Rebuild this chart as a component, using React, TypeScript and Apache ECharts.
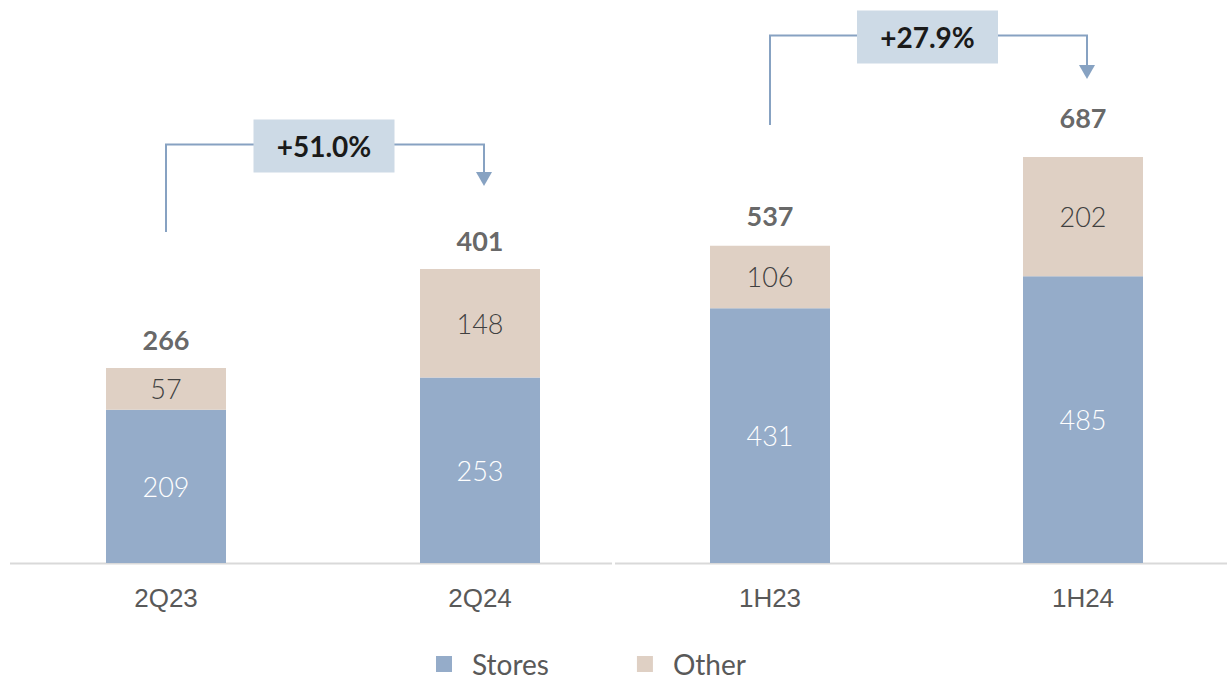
import React, { useEffect, useRef } from "react";
import * as echarts from "echarts";

const leftCategories = ["2Q23", "2Q24"];
const rightCategories = ["1H23", "1H24"];
const leftStores = [209, 253];
const leftOther = [57, 148];
const rightStores = [431, 485];
const rightOther = [106, 202];
const leftGrowth = "+51.0%";
const rightGrowth = "+27.9%";

const STORES = "#95acc9";
const OTHER = "#dfd0c4";
const LINE = "#87a2c2";
const BOX = "#cddae6";
const FONT = "Lato, 'Open Sans', sans-serif";

const sum = (a: number[], b: number[]) => a.map((v, i) => v + b[i]);

export default function App() {
  const ref = useRef<HTMLDivElement>(null);
  useEffect(() => {
    document.body.style.margin = "0";
    const chart = echarts.init(ref.current!, null, { renderer: "svg" });
    const leftTotal = sum(leftStores, leftOther);
    const rightTotal = sum(rightStores, rightOther);

    const barCommon = (name: string, color: string, gi: number, data: number[], labelColor: string) => ({
      name,
      type: "bar",
      stack: "s" + gi,
      xAxisIndex: gi,
      yAxisIndex: gi,
      barWidth: 120,
      data,
      itemStyle: { color },
      label: {
        show: true,
        position: "inside",
        color: labelColor,
        fontSize: 27,
        fontWeight: 300,
        fontFamily: FONT,
      },
    });
    const totalSeries = (gi: number, data: number[], distances: number[]) => ({
      type: "scatter",
      xAxisIndex: gi,
      yAxisIndex: gi,
      symbolSize: 0,
      data: data.map((v, i) => ({ value: v, label: { distance: distances[i] } })),
      silent: true,
      label: {
        show: true,
        position: "top",
        color: "#404040",
        fontSize: 27,
        fontWeight: "bold",
        fontFamily: FONT,
      },
    });
    const xAxis = (gi: number, data: string[]) => ({
      type: "category",
      gridIndex: gi,
      data,
      axisLine: { show: false },
      axisTick: { show: false },
      axisLabel: { color: "#595959", fontSize: 26, margin: 22, fontFamily: "'Liberation Sans', Arial, sans-serif" },
    });
    const yAxis = (gi: number, max: number) => ({
      type: "value",
      gridIndex: gi,
      min: 0,
      max,
      show: false,
      splitLine: { show: false },
    });

    chart.setOption({
      animation: false,
      textStyle: { fontFamily: FONT },
      grid: [
        { left: 9, width: 628, top: 196.5, bottom: 119, outerBoundsMode: "none", containLabel: false },
        { left: 613.5, width: 626, top: 149.3, bottom: 119, outerBoundsMode: "none", containLabel: false },
      ],
      xAxis: [xAxis(0, leftCategories), xAxis(1, rightCategories)],
      yAxis: [yAxis(0, 500), yAxis(1, 700)],
      legend: {
        data: ["Stores", "Other"],
        top: 645,
        left: 431,
        icon: "rect",
        itemWidth: 16,
        itemHeight: 16,
        itemGap: 88,
        textStyle: { fontSize: 28, color: "#595959", fontFamily: FONT, padding: [0, 0, 0, 15], lineHeight: 26 },
      },
      series: [
        barCommon("Stores", STORES, 0, leftStores, "#ffffff"),
        barCommon("Other", OTHER, 0, leftOther, "#404040"),
        barCommon("Stores", STORES, 1, rightStores, "#ffffff"),
        barCommon("Other", OTHER, 1, rightOther, "#404040"),
        totalSeries(0, leftTotal, [15, 15]),
        totalSeries(1, rightTotal, [17, 26]),
      ],
    });

    const px = (gi: number, cat: string, v: number) =>
      chart.convertToPixel({ gridIndex: gi } as any, [cat, v]) as number[];

    const bracket = (gi: number, cats: string[], totals: number[], text: string, lineY: number, startBottom: number, arrowTip: number) => {
      const a = px(gi, cats[0], totals[0]);
      const b = px(gi, cats[1], totals[1]);
      const x1 = a[0];
      const x2 = b[0] + 4;
      const mid = (x1 + x2) / 2;
      const bw = 141;
      const bh = 53;
      return [
        {
          type: "polyline",
          shape: { points: [[x1, startBottom], [x1, lineY], [x2, lineY], [x2, arrowTip - 12]] },
          style: { stroke: LINE, lineWidth: 2, fill: "none" },
          z: 10,
        },
        {
          type: "polygon",
          shape: { points: [[x2 - 8, arrowTip - 14], [x2 + 8, arrowTip - 14], [x2, arrowTip]] },
          style: { fill: LINE },
          z: 10,
        },
        {
          type: "rect",
          shape: { x: mid - bw / 2 - 1, y: lineY - 25, width: bw, height: bh },
          style: { fill: BOX },
          z: 11,
        },
        {
          type: "text",
          x: mid - 1,
          y: lineY + 1.5,
          style: {
            text,
            fill: "#1a1a1a",
            font: `bold 28px ${FONT}`,
            align: "center",
            verticalAlign: "middle",
          },
          z: 12,
        },
      ];
    };

    chart.setOption({
      graphic: [
        {
          type: "line",
          shape: { x1: 10, y1: 563.5, x2: 612, y2: 563.5 },
          style: { stroke: "#d9d9d9", lineWidth: 2 },
        },
        {
          type: "line",
          shape: { x1: 615, y1: 563.5, x2: 1227, y2: 563.5 },
          style: { stroke: "#d9d9d9", lineWidth: 2 },
        },
        ...bracket(0, leftCategories, leftTotal, leftGrowth, 144.5, 232, 186),
        ...bracket(1, rightCategories, rightTotal, rightGrowth, 35.5, 125, 79),
      ],
    });

    return () => chart.dispose();
  }, []);
  return <div ref={ref} style={{ width: 1227, height: 682 }} />;
}
